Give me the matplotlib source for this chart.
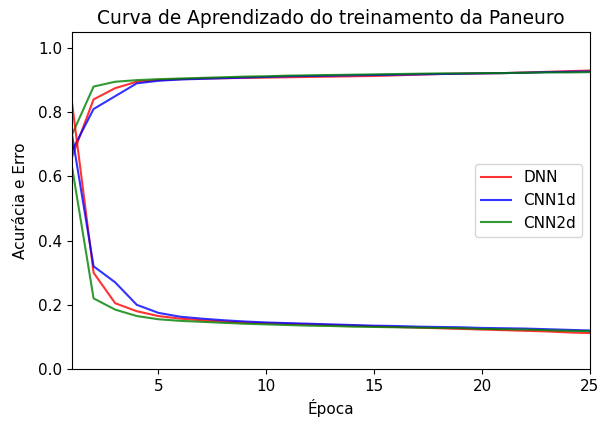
import matplotlib
matplotlib.use('Agg')
import matplotlib.pyplot as plt
import numpy as np

epocas = np.arange(1, 26)

# acuracia (curvas de cima)
acc_dnn = [0.66, 0.84, 0.875, 0.895, 0.900, 0.903, 0.905, 0.906, 0.907, 0.908,
           0.909, 0.910, 0.911, 0.912, 0.913, 0.915, 0.917, 0.919, 0.920, 0.921,
           0.922, 0.924, 0.926, 0.928, 0.930]
acc_cnn1d = [0.68, 0.81, 0.85, 0.89, 0.898, 0.902, 0.904, 0.906, 0.908, 0.910,
             0.912, 0.913, 0.914, 0.915, 0.916, 0.917, 0.918, 0.919, 0.920, 0.921,
             0.922, 0.923, 0.925, 0.926, 0.927]
acc_cnn2d = [0.73, 0.88, 0.895, 0.900, 0.903, 0.905, 0.907, 0.909, 0.911, 0.912,
             0.914, 0.915, 0.916, 0.917, 0.918, 0.919, 0.920, 0.921, 0.921, 0.922,
             0.922, 0.923, 0.924, 0.924, 0.925]

# erro (curvas de baixo)
loss_dnn = [0.83, 0.30, 0.205, 0.180, 0.165, 0.157, 0.152, 0.148, 0.145, 0.143,
            0.141, 0.139, 0.137, 0.135, 0.133, 0.131, 0.129, 0.127, 0.125, 0.123,
            0.121, 0.119, 0.117, 0.114, 0.112]
loss_cnn1d = [0.73, 0.32, 0.27, 0.20, 0.175, 0.163, 0.157, 0.152, 0.148, 0.145,
              0.143, 0.141, 0.139, 0.137, 0.135, 0.134, 0.132, 0.131, 0.130, 0.128,
              0.127, 0.126, 0.124, 0.122, 0.120]
loss_cnn2d = [0.63, 0.22, 0.185, 0.165, 0.155, 0.150, 0.147, 0.144, 0.141, 0.139,
              0.137, 0.135, 0.134, 0.132, 0.131, 0.130, 0.129, 0.128, 0.127, 0.125,
              0.124, 0.123, 0.121, 0.119, 0.118]

plt.rcParams['font.size'] = 11

fig = plt.figure(figsize=(5.98, 4.25), dpi=100)
ax = fig.add_axes([72/598, 1 - 369/425, 518/598, 337/425])

ax.plot(epocas, acc_dnn, color='red', alpha=0.8, label='DNN')
ax.plot(epocas, acc_cnn1d, color='blue', alpha=0.8, label='CNN1d')
ax.plot(epocas, acc_cnn2d, color='green', alpha=0.8, label='CNN2d')
ax.plot(epocas, loss_dnn, color='red', alpha=0.8)
ax.plot(epocas, loss_cnn1d, color='blue', alpha=0.8)
ax.plot(epocas, loss_cnn2d, color='green', alpha=0.8)

ax.set_xlim(1, 25)
ax.set_ylim(0, 1.05)
ax.set_xticks([5, 10, 15, 20, 25])
ax.set_title('Curva de Aprendizado do treinamento da Paneuro', fontsize=13.4)
ax.set_xlabel('Época')
ax.set_ylabel('Acurácia e Erro', labelpad=7)
ax.legend(loc='center right')

plt.savefig('out.png', dpi=100)
